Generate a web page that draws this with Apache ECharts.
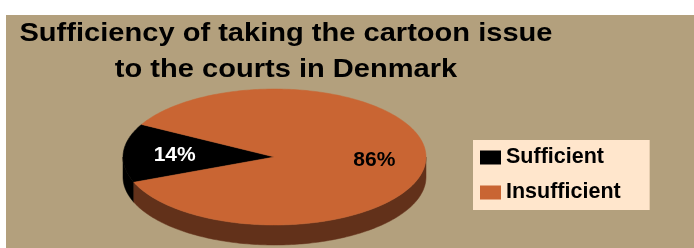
<!DOCTYPE html>
<html><head><meta charset="utf-8">
<script src="https://cdn.jsdelivr.net/npm/echarts@6/dist/echarts.min.js"></script>
<style>html,body{margin:0;padding:0;background:#fff}#c{width:694px;height:248px}</style>
</head><body><div id="c"></div>
<script>
const categories = ['Sufficient', 'Insufficient'];
const values = [14, 86];
const titleLines = ['Sufficiency of taking the cartoon issue', 'to the courts in Denmark'];

const topColors = ['#000000', '#C96533'];
const sideColors = ['#000000', '#62311A'];
const labelColors = ['#ffffff', '#000000'];

const CX = 274.5, CY = 157, RX = 151.5, RY = 68, DEPTH = 20, START = 151.4;
const total = values.reduce((a, b) => a + b, 0);
function pt(deg, dy) { const r = deg * Math.PI / 180; return [CX + RX * Math.cos(r), CY - RY * Math.sin(r) + (dy || 0)]; }
function arc(a1, a2, dy) { const pts = []; const n = Math.max(2, Math.ceil(a2 - a1)); for (let i = 0; i <= n; i++) pts.push(pt(a1 + (a2 - a1) * i / n, dy)); return pts; }

function renderSlice(idx) {
  return function (params, api) {
    const v = api.value(0);
    let cum = 0; for (let i = 0; i < idx; i++) cum += values[i];
    const a1 = START + cum / total * 360, a2 = a1 + v / total * 360;
    const children = [];
    for (const base of [180, 540]) {
      const s = Math.max(a1, base), e = Math.min(a2, base + 180);
      if (e > s) {
        const top = arc(s, e, 0), bot = arc(s, e, DEPTH).reverse();
        children.push({ type: 'polygon', z2: 1, shape: { points: top.concat(bot) }, style: { fill: sideColors[idx], stroke: sideColors[idx], lineWidth: 0.5 } });
      }
    }
    const col = api.visual('color');
    children.push({ type: 'polygon', z2: 2, shape: { points: [[CX, CY]].concat(arc(a1, a2, 0)) }, style: { fill: col, stroke: col, lineWidth: 0.5 } });
    const mid = (a1 + a2) / 2, r = mid * Math.PI / 180;
    children.push({ type: 'text', z2: 3, x: CX + 0.66 * RX * Math.cos(r), y: CY - 0.66 * RY * Math.sin(r) + 1,
      style: { text: Math.round(v / total * 100) + '%', align: 'center', verticalAlign: 'middle', fill: labelColors[idx], font: 'bold 21px "Liberation Sans", Arial, sans-serif' } });
    return { type: 'group', children };
  };
}

const titleFont = 'bold 25.5px "Liberation Sans", Arial, sans-serif';
const chart = echarts.init(document.getElementById('c'), null, { renderer: 'canvas' });
chart.setOption({
  animation: false,
  backgroundColor: '#ffffff',
  graphic: [
    { type: 'rect', z: -10, shape: { x: 6, y: 15, width: 688, height: 233 }, style: { fill: '#B3A07D' } },
    { type: 'text', x: 286, y: 34, scaleX: 1.14, style: { text: titleLines[0], align: 'center', verticalAlign: 'middle', font: titleFont, fill: '#000' } },
    { type: 'text', x: 286, y: 70, scaleX: 1.14, style: { text: titleLines[1], align: 'center', verticalAlign: 'middle', font: titleFont, fill: '#000' } }
  ],
  legend: {
    orient: 'vertical', left: 473, top: 140, data: categories, icon: 'rect',
    itemWidth: 21, itemHeight: 14, itemGap: 13, padding: [6.5, 29, 6.5, 7],
    backgroundColor: '#FFE6CC', selectedMode: false,
    textStyle: { fontFamily: '"Liberation Sans", Arial, sans-serif', fontWeight: 'bold', fontSize: 21.5, lineHeight: 21, color: '#000' }
  },
  series: categories.map((name, i) => ({
    type: 'custom', name, coordinateSystem: 'none', data: [values[i]],
    itemStyle: { color: topColors[i] }, renderItem: renderSlice(i)
  }))
});
</script></body></html>
